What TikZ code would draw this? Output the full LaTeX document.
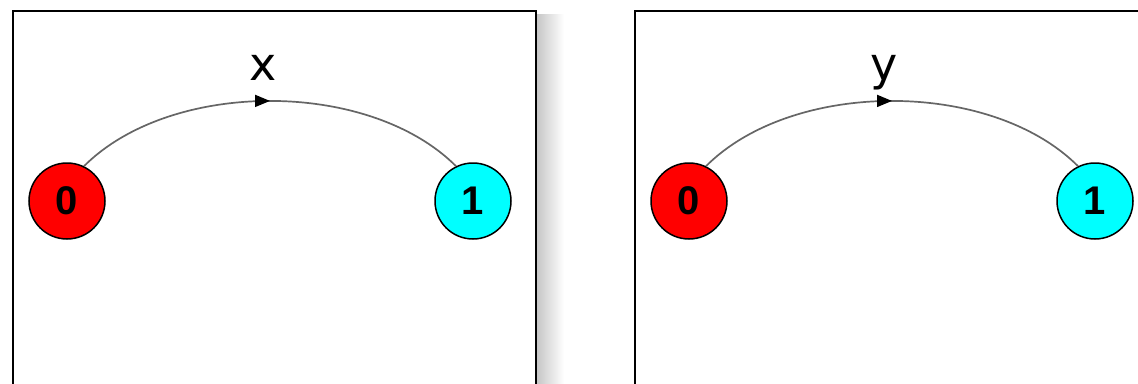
\documentclass[tikz,border=0pt]{standalone}
\usepackage{fontspec}
\setmainfont{Liberation Sans}
\newfontfamily\lblfont{DejaVu Sans}
\newfontfamily\digitfont{Liberation Sans Bold}
\usetikzlibrary{decorations.markings,arrows.meta}
\definecolor{nodered}{RGB}{255,0,0}
\definecolor{nodecyan}{RGB}{0,255,255}
\tikzset{
  panel/.style={draw=black,line width=2pt},
  state/.style={circle,draw=black,line width=1.5pt,minimum size=76pt,inner sep=0pt,
    font=\digitfont\fontsize{40}{40}\selectfont},
  edge/.style={draw=black!60,line width=1.7pt,
    postaction={decorate,decoration={markings,mark=at position 0.5 with {\arrow[black]{Triangle[length=15pt,width=12pt]}}}}},
  lbl/.style={anchor=base,inner sep=0pt,font=\lblfont\fontsize{46}{46}\selectfont}
}
\begin{document}
\begin{tikzpicture}[x=1pt,y=-1pt]
\useasboundingbox (0,0) rectangle (1138,383);
\begin{scope}
\clip (0,0) rectangle (1138,383);
\shade[left color=black!22,right color=white] (537,14) rectangle (564,390);
\draw[panel,fill=white] (13,11) rectangle (536,400);
\draw[panel,fill=white] (635,11) rectangle (1160,400);
\end{scope}
% left panel
\node[state,fill=nodered] (a0) at (67,201) {0};
\node[state,fill=nodecyan] (a1) at (473,201) {1};
\draw[edge] (a0.64) .. controls +(87,-87) and +(-87,-87) .. (a1.116);
\node[lbl] (lx) at (263,80) {x};
% right panel
\node[state,fill=nodered] (b0) at (689,201) {0};
\node[state,fill=nodecyan] (b1) at (1095,201) {1};
\draw[edge] (b0.64) .. controls +(87,-87) and +(-87,-87) .. (b1.116);
\node[lbl] (ly) at (884,80) {y};
\end{tikzpicture}
\end{document}
